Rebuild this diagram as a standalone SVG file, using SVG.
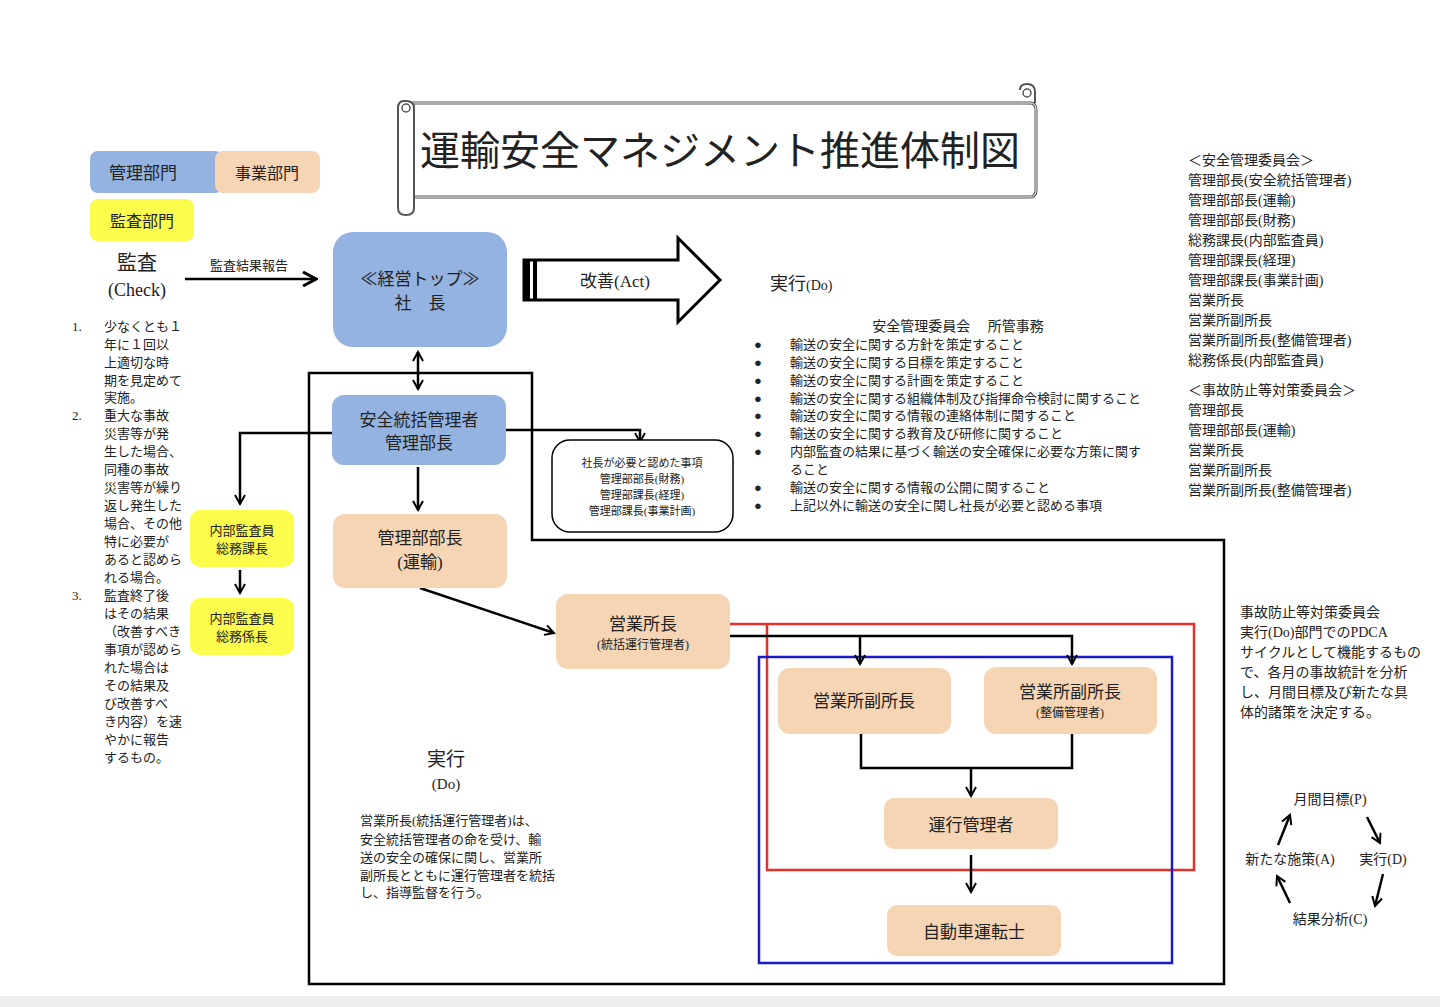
<svg xmlns="http://www.w3.org/2000/svg" width="1440" height="1007" viewBox="0 0 1440 1007">
<defs>
<marker id="ah" viewBox="0 0 12 12" refX="10" refY="6" markerWidth="12" markerHeight="12" markerUnits="userSpaceOnUse" orient="auto-start-reverse">
<path d="M1,1 L10,6 L1,11" fill="none" stroke="#000" stroke-width="2"/>
</marker>
<marker id="ahb" viewBox="0 0 16 16" refX="14" refY="8" markerWidth="16" markerHeight="16" markerUnits="userSpaceOnUse" orient="auto">
<path d="M1,1 L14,8 L1,15" fill="none" stroke="#000" stroke-width="3"/>
</marker>
</defs>
<style>
text{font-family:"Liberation Serif","Noto Sans CJK JP",serif;fill:#222}
.c{text-anchor:middle}
.blue{fill:#94b3e0}
.peach{fill:#f6d5b5}
.yel{fill:#fcfc4c}
.ln{fill:none;stroke:#000;stroke-width:2.5}
.s13{font-size:13px}
.s14{font-size:14px}
.s17{font-size:17px}
</style>
<rect width="1440" height="1007" fill="#fff"/>
<rect y="996" width="1440" height="11" fill="#eeeeee"/>

<g id="title">
<path d="M412,103 H1030 Q1036,103 1036,110 V190 Q1036,197 1030,197 H412" fill="none" stroke="#555" stroke-width="3"/>
<path d="M412,103 H1030 Q1036,103 1036,110 V190 Q1036,197 1030,197 H412" fill="none" stroke="#fff" stroke-width="1"/>
<path d="M404,101 Q398,101 398,108 V208 Q398,215 406,215 Q414,215 414,208 V108 Q414,101 406,101 Z" fill="#fff" stroke="#555" stroke-width="2"/>
<circle cx="406" cy="108" r="4" fill="none" stroke="#555" stroke-width="1.5"/>
<path d="M1020,90 Q1020,84 1027,84 Q1035,84 1035,92 V103" fill="none" stroke="#555" stroke-width="2"/>
<circle cx="1027" cy="93" r="4" fill="none" stroke="#555" stroke-width="1.5"/>
<text x="720" y="165" class="c" font-size="40">運輸安全マネジメント推進体制図</text>
</g>

<g id="legend">
<rect x="90" y="151" width="133" height="42" rx="8" class="blue"/>
<text x="143" y="179" class="c s17" font-size="16">管理部門</text>
<rect x="215" y="151" width="105" height="42" rx="8" class="peach"/>
<text x="267" y="179" class="c" font-size="16">事業部門</text>
<rect x="90" y="199" width="104" height="42" rx="8" class="yel"/>
<text x="142" y="227" class="c" font-size="16">監査部門</text>
</g>

<g id="check">
<text x="137" y="270" class="c" font-size="20">監査</text>
<text x="137" y="296" class="c" font-size="18">(Check)</text>
<text x="249" y="270" class="c s13">監査結果報告</text>
<g class="s13">
<text x="72" y="331">1.</text>
<text x="104" y="331">少なくとも１</text>
<text x="104" y="349">年に１回以</text>
<text x="104" y="367">上適切な時</text>
<text x="104" y="385">期を見定めて</text>
<text x="104" y="402">実施。</text>
<text x="72" y="420">2.</text>
<text x="104" y="420">重大な事故</text>
<text x="104" y="438">災害等が発</text>
<text x="104" y="456">生した場合、</text>
<text x="104" y="474">同種の事故</text>
<text x="104" y="492">災害等が繰り</text>
<text x="104" y="510">返し発生した</text>
<text x="104" y="528">場合、その他</text>
<text x="104" y="546">特に必要が</text>
<text x="104" y="564">あると認めら</text>
<text x="104" y="582">れる場合。</text>
<text x="72" y="600">3.</text>
<text x="104" y="600">監査終了後</text>
<text x="104" y="618">はその結果</text>
<text x="104" y="636">（改善すべき</text>
<text x="104" y="654">事項が認めら</text>
<text x="104" y="672">れた場合は</text>
<text x="104" y="690">その結果及</text>
<text x="104" y="708">び改善すべ</text>
<text x="104" y="726">き内容）を速</text>
<text x="104" y="744">やかに報告</text>
<text x="104" y="762">するもの。</text>
</g>
</g>

<g id="frames">
<path d="M309,373 H532 V540 H1224 V984 H309 Z" class="ln"/>
<path d="M730,624 H1194 V870 H767 V624" fill="none" stroke="#e8302a" stroke-width="2.5"/>
<rect x="759" y="657" width="413" height="306" fill="none" stroke="#1a1ac8" stroke-width="2.5"/>
</g>

<g id="act">
<path d="M524,260 H678 V238 L720,280 L678,322 V300 H524 Z" fill="#fff" stroke="#000" stroke-width="3"/>
<rect x="524" y="260" width="6" height="40" fill="#000"/>
<rect x="533" y="260" width="4" height="40" fill="#000"/>
<text x="615" y="287" class="c" font-size="17">改善(Act)</text>
</g>

<g id="connectors">
<line x1="185" y1="279" x2="316" y2="279" class="ln" marker-end="url(#ahb)"/>
<line x1="418" y1="352" x2="418" y2="389" class="ln" marker-start="url(#ah)" marker-end="url(#ah)"/>
<path d="M332,433 H240 V504" class="ln" marker-end="url(#ah)"/>
<path d="M506,430 H640 V442" class="ln" marker-end="url(#ah)"/>
<line x1="418" y1="467" x2="418" y2="510" class="ln" marker-end="url(#ah)"/>
<line x1="240" y1="570" x2="240" y2="593" class="ln" marker-end="url(#ah)"/>
<line x1="420" y1="588" x2="554" y2="633" class="ln" marker-end="url(#ah)"/>
<path d="M730,636 H1072 V664" class="ln" marker-end="url(#ah)"/>
<line x1="860" y1="636" x2="860" y2="664" class="ln" marker-end="url(#ah)"/>
<path d="M861,734 V768 H1072 V734" class="ln"/>
<line x1="971" y1="768" x2="971" y2="796" class="ln" marker-end="url(#ah)"/>
<line x1="971" y1="855" x2="971" y2="892" class="ln" marker-end="url(#ah)"/>
<line x1="1278" y1="845" x2="1290" y2="815" class="ln" marker-end="url(#ah)"/>
<line x1="1367" y1="817" x2="1380" y2="843" class="ln" marker-end="url(#ah)"/>
<line x1="1383" y1="874" x2="1375" y2="906" class="ln" marker-end="url(#ah)"/>
<line x1="1290" y1="903" x2="1277" y2="876" class="ln" marker-end="url(#ah)"/>
</g>

<g id="top">
<rect x="333" y="232" width="174" height="115" rx="20" class="blue"/>
<text x="420" y="285" class="c s17">≪経営トップ≫</text>
<text x="420" y="309" class="c s17">社　長</text>
</g>
<g id="safety">
<rect x="332" y="395" width="174" height="70" rx="12" class="blue"/>
<text x="419" y="426" class="c s17">安全統括管理者</text>
<text x="419" y="449" class="c s17">管理部長</text>
</g>
<g id="note">
<rect x="552" y="440" width="181" height="92" rx="18" fill="#fff" stroke="#000" stroke-width="1.5"/>
<text x="642" y="467" class="c" font-size="11">社長が必要と認めた事項</text>
<text x="642" y="483" class="c" font-size="11">管理部部長(財務)</text>
<text x="642" y="499" class="c" font-size="11">管理部課長(経理)</text>
<text x="642" y="515" class="c" font-size="11">管理部課長(事業計画)</text>
</g>
<g id="unyu">
<rect x="333" y="514" width="174" height="74" rx="12" class="peach"/>
<text x="420" y="544" class="c s17">管理部部長</text>
<text x="420" y="568" class="c s17">(運輸)</text>
</g>
<g id="audit1">
<rect x="190" y="510" width="104" height="57" rx="10" class="yel"/>
<text x="242" y="535" class="c s13">内部監査員</text>
<text x="242" y="553" class="c s13">総務課長</text>
</g>
<g id="audit2">
<rect x="190" y="598" width="104" height="57" rx="10" class="yel"/>
<text x="242" y="623" class="c s13">内部監査員</text>
<text x="242" y="641" class="c s13">総務係長</text>
</g>
<g id="eigyo">
<rect x="556" y="594" width="174" height="75" rx="12" class="peach"/>
<text x="643" y="630" class="c s17">営業所長</text>
<text x="643" y="649" class="c" font-size="12">(統括運行管理者)</text>
</g>
<g id="fuku1">
<rect x="778" y="668" width="173" height="66" rx="12" class="peach"/>
<text x="864" y="707" class="c s17">営業所副所長</text>
</g>
<g id="fuku2">
<rect x="984" y="667" width="173" height="67" rx="12" class="peach"/>
<text x="1070" y="698" class="c s17">営業所副所長</text>
<text x="1070" y="717" class="c" font-size="12">(整備管理者)</text>
</g>
<g id="unko">
<rect x="884" y="798" width="174" height="51" rx="10" class="peach"/>
<text x="971" y="831" class="c s17">運行管理者</text>
</g>
<g id="driver">
<rect x="887" y="905" width="174" height="51" rx="10" class="peach"/>
<text x="974" y="938" class="c s17">自動車運転士</text>
</g>

<g id="committee">
<text x="770" y="290" font-size="18">実行<tspan font-size="14">(Do)</tspan></text>
<text x="958" y="331" class="c s14">安全管理委員会　 所管事務</text>
<g class="s13">
<text x="754" y="349">●</text><text x="790" y="349">輸送の安全に関する方針を策定すること</text>
<text x="754" y="367">●</text><text x="790" y="367">輸送の安全に関する目標を策定すること</text>
<text x="754" y="385">●</text><text x="790" y="385">輸送の安全に関する計画を策定すること</text>
<text x="754" y="403">●</text><text x="790" y="403">輸送の安全に関する組織体制及び指揮命令検討に関すること</text>
<text x="754" y="420">●</text><text x="790" y="420">輸送の安全に関する情報の連絡体制に関すること</text>
<text x="754" y="438">●</text><text x="790" y="438">輸送の安全に関する教育及び研修に関すること</text>
<text x="754" y="456">●</text><text x="790" y="456">内部監査の結果に基づく輸送の安全確保に必要な方策に関す</text>
<text x="790" y="474">ること</text>
<text x="754" y="492">●</text><text x="790" y="492">輸送の安全に関する情報の公開に関すること</text>
<text x="754" y="510">●</text><text x="790" y="510">上記以外に輸送の安全に関し社長が必要と認める事項</text>
</g>
</g>

<g id="members" class="s14">
<text x="1188" y="165">＜安全管理委員会＞</text>
<text x="1188" y="185">管理部長(安全統括管理者)</text>
<text x="1188" y="205">管理部部長(運輸)</text>
<text x="1188" y="225">管理部部長(財務)</text>
<text x="1188" y="245">総務課長(内部監査員)</text>
<text x="1188" y="265">管理部課長(経理)</text>
<text x="1188" y="285">管理部課長(事業計画)</text>
<text x="1188" y="305">営業所長</text>
<text x="1188" y="325">営業所副所長</text>
<text x="1188" y="345">営業所副所長(整備管理者)</text>
<text x="1188" y="365">総務係長(内部監査員)</text>
<text x="1188" y="395">＜事故防止等対策委員会＞</text>
<text x="1188" y="415">管理部長</text>
<text x="1188" y="435">管理部部長(運輸)</text>
<text x="1188" y="455">営業所長</text>
<text x="1188" y="475">営業所副所長</text>
<text x="1188" y="495">営業所副所長(整備管理者)</text>
</g>

<g id="do-text">
<text x="446" y="766" class="c" font-size="19">実行</text>
<text x="446" y="789" class="c" font-size="15">(Do)</text>
<g class="s13">
<text x="360" y="825">営業所長(統括運行管理者)は、</text>
<text x="360" y="844">安全統括管理者の命を受け、輸</text>
<text x="360" y="862">送の安全の確保に関し、営業所</text>
<text x="360" y="880">副所長とともに運行管理者を統括</text>
<text x="360" y="897">し、指導監督を行う。</text>
</g>
</g>

<g id="pdca" class="s14">
<text x="1240" y="617">事故防止等対策委員会</text>
<text x="1240" y="637">実行(Do)部門でのPDCA</text>
<text x="1240" y="657">サイクルとして機能するもの</text>
<text x="1240" y="677">で、各月の事故統計を分析</text>
<text x="1240" y="697">し、月間目標及び新たな具</text>
<text x="1240" y="717">体的諸策を決定する。</text>
<text x="1330" y="804" class="c">月間目標(P)</text>
<text x="1290" y="864" class="c">新たな施策(A)</text>
<text x="1383" y="864" class="c">実行(D)</text>
<text x="1330" y="924" class="c">結果分析(C)</text>
</g>
</svg>
